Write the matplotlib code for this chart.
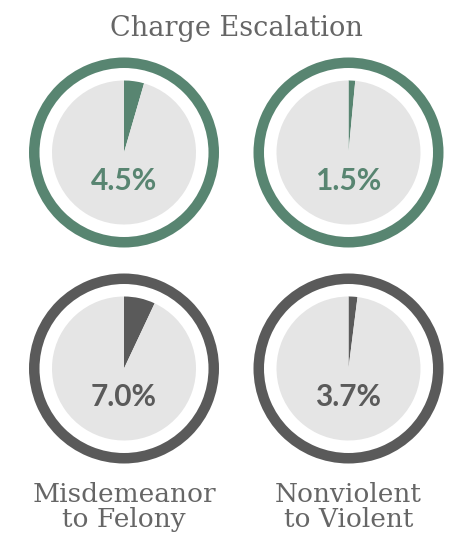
import matplotlib
matplotlib.use("Agg")
import matplotlib.pyplot as plt

title = "Charge Escalation"
col_labels = ["Misdemeanor\nto Felony", "Nonviolent\nto Violent"]
pct_labels = ["4.5%", "1.5%", "7.0%", "3.7%"]
wedge_share = [4.5, 1.5, 7.0, 2.0]
row_colors = ["#588571", "#5a5a5a"]
fill_color = "#e5e5e5"

W, H = 457, 544
fig = plt.figure(figsize=(W / 100, H / 100), dpi=100)
ax = fig.add_axes([0, 0, 1, 1])

cx = [124, 348.5]
cy = [H - 152.5, H - 368.5]
r_outer, ring_w, r_inner = 95, 10.5, 72

for i in range(4):
    row, col = divmod(i, 2)
    color = row_colors[row]
    c = (cx[col], cy[row])
    ax.pie([1], radius=r_outer, center=c, colors=[color],
           wedgeprops=dict(width=ring_w, linewidth=0), frame=True)
    v = wedge_share[i]
    ax.pie([v, 100 - v], radius=r_inner, center=c, colors=[color, fill_color],
           startangle=90, counterclock=False,
           wedgeprops=dict(linewidth=0), frame=True)
    ax.text(c[0], c[1] - 29, pct_labels[i], ha="center", va="center",
            fontsize=21.5, fontfamily="Lato", fontweight="bold", color=color)

ax.set_xlim(0, W)
ax.set_ylim(0, H)
ax.set_aspect("equal")
ax.axis("off")

ax.text(236, H - 28, title, ha="center", va="center", fontsize=19.5,
        fontfamily="DejaVu Serif", color="#666666")
for col in range(2):
    ax.text(cx[col], H - 507, col_labels[col], ha="center", va="center",
            fontsize=19, fontfamily="DejaVu Serif", color="#666666",
            linespacing=1.0)

fig.savefig("out.png", dpi=100)
